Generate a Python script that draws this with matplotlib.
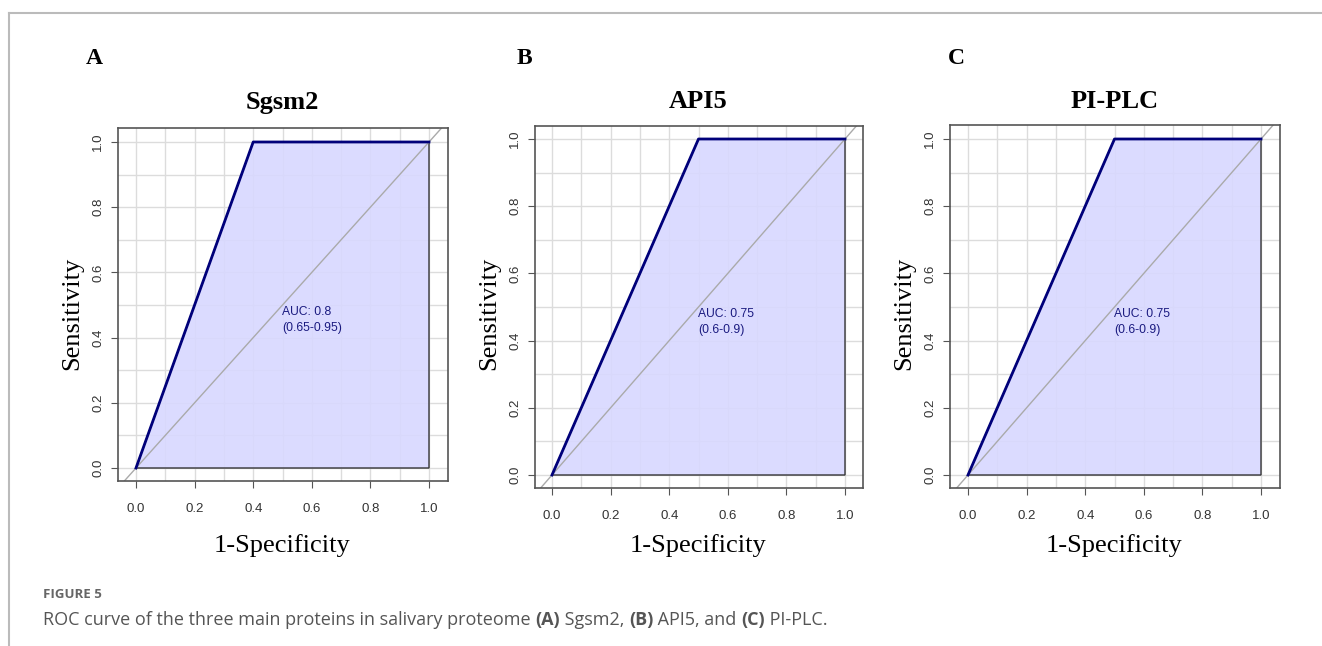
import matplotlib.pyplot as plt
from matplotlib.lines import Line2D

# data
panels = ["A", "B", "C"]
titles = ["Sgsm2", "API5", "PI-PLC"]
fpr = [[0.0, 0.4, 1.0], [0.0, 0.5, 1.0], [0.0, 0.5, 1.0]]
tpr = [[0.0, 1.0, 1.0], [0.0, 1.0, 1.0], [0.0, 1.0, 1.0]]
auc_text = ["AUC: 0.8\n(0.65-0.95)", "AUC: 0.75\n(0.6-0.9)", "AUC: 0.75\n(0.6-0.9)"]
tick_vals = [0, 0.2, 0.4, 0.6, 0.8, 1.0]
tick_labels = ["0.0", "0.2", "0.4", "0.6", "0.8", "1.0"]

W, H = 1322, 646
fig = plt.figure(figsize=(W / 100, H / 100), dpi=100)

# pixel boxes: (left, right, top, bottom, x0px, x1px, y1px, y0px)
boxes = [(118, 448, 128, 481, 136, 429, 142, 468),
         (535, 863, 126, 488, 552, 845, 139, 475),
         (950, 1280, 125, 488, 968, 1261, 139, 475)]
letter_x = [94, 524, 956]

serif = "Liberation Serif"
sans = "Liberation Sans"

for i in range(3):
    l, r, t, b, x0, x1, y1, y0 = boxes[i]
    ax = fig.add_axes([l / W, 1 - b / H, (r - l) / W, (b - t) / H])
    sx = 1 / (x1 - x0)
    sy = 1 / (y0 - y1)
    ax.set_xlim(-(x0 - l) * sx, 1 + (r - x1) * sx)
    ax.set_ylim(-(b - y0) * sy, 1 + (y1 - t) * sy)

    # grid
    for g in [k / 10 for k in range(11)]:
        ax.axvline(g, color="#dcdcdc", lw=1, zorder=0)
        ax.axhline(g, color="#dcdcdc", lw=1, zorder=0)

    xs = fpr[i] + [1.0, 0.0]
    ys = tpr[i] + [0.0, 0.0]
    ax.fill(xs, ys, facecolor="#d8d8ff", edgecolor="#222222", lw=1, alpha=0.9, zorder=1)
    ax.plot([-0.2, 1.2], [-0.2, 1.2], color="#aaaaaa", lw=1, zorder=2)
    ax.plot(fpr[i], tpr[i], color="#00007a", lw=2, zorder=3)
    ax.text(0.5, 0.455, auc_text[i], color="#1a1a80", fontsize=8.7, family=sans,
            ha="left", va="center", linespacing=1.45, zorder=4)

    ax.set_xticks(tick_vals)
    ax.set_yticks(tick_vals)
    ax.set_xticklabels(tick_labels, family=sans, fontsize=9.5, color="#333333")
    ax.set_yticklabels(tick_labels, family=sans, fontsize=9.5, color="#333333",
                       rotation=90, va="center")
    ax.tick_params(length=5, color="#555555")
    ax.tick_params(axis="x", pad=11)
    ax.tick_params(axis="y", pad=5)
    for s in ax.spines.values():
        s.set_color("#555555")
        s.set_linewidth(1.2)

    cx = (x0 + x1) / 2
    fig.text(cx / W, 1 - 102 / H, titles[i], ha="center", va="center", family=serif,
             fontsize=19, fontweight="bold")
    fig.text(letter_x[i] / W, 1 - 58 / H, panels[i], ha="center", va="center", family=serif,
             fontsize=17, fontweight="bold")
    fig.text((l - 46) / W, 1 - 313 / H, "Sensitivity", rotation=90, ha="center",
             va="center", family=serif, fontsize=19)
    fig.text(cx / W, 1 - 546 / H, "1-Specificity", ha="center", va="center", family=serif,
             fontsize=19)

# caption frame
fig.add_artist(Line2D([9 / W, 1], [1 - 13 / H, 1 - 13 / H], color="#bbbbbb", lw=1.5))
fig.add_artist(Line2D([9 / W, 9 / W], [0, 1 - 13 / H], color="#bbbbbb", lw=1.5))

fig.text(43 / W, 1 - 594 / H, "FIGURE 5", family="Open Sans", fontsize=9.5, fontweight="bold",
         color="#666666", va="center")

pieces = [("ROC curve of the three main proteins in salivary proteome ", "normal"),
          ("(A)", "bold"), (" Sgsm2, ", "normal"), ("(B)", "bold"), (" API5, and ", "normal"),
          ("(C)", "bold"), (" PI-PLC.", "normal")]
fig.canvas.draw()
renderer = fig.canvas.get_renderer()
xpos = 43
for txt, wt in pieces:
    tt = fig.text(xpos / W, 1 - 620 / H, txt, family="Open Sans", fontsize=13, fontweight=wt,
                  color="#555555", va="center")
    bb = tt.get_window_extent(renderer)
    xpos += bb.width

fig.savefig("out.png", dpi=100)
